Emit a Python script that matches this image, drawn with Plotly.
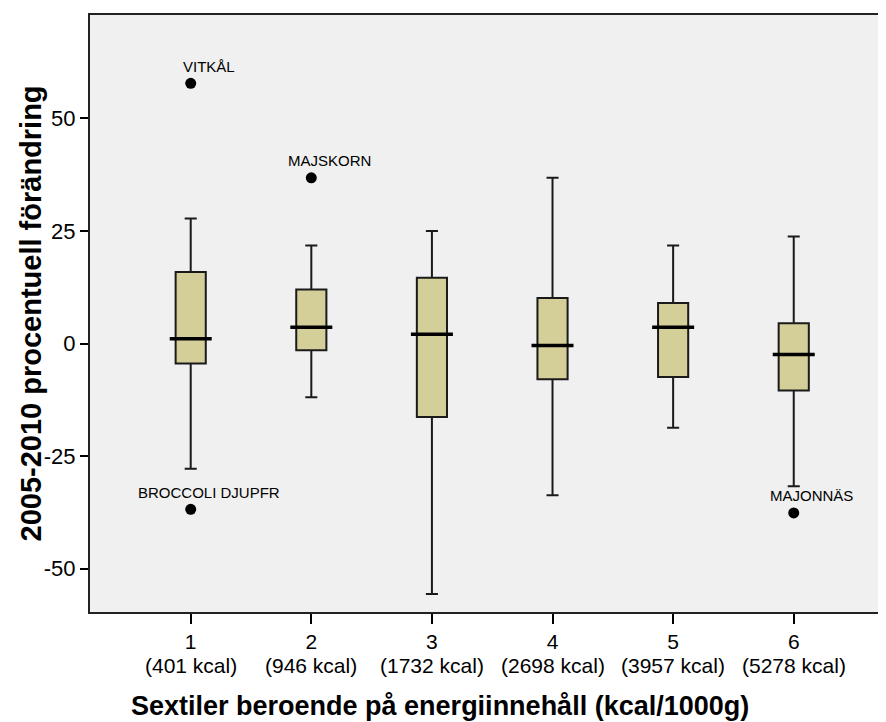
import plotly.graph_objects as go

categories = [1, 2, 3, 4, 5, 6]
kcal_labels = ["(401 kcal)", "(946 kcal)", "(1732 kcal)", "(2698 kcal)", "(3957 kcal)", "(5278 kcal)"]
q1 = [-4.4, -1.5, -16.3, -7.9, -7.4, -10.4]
median = [1.1, 3.6, 2.1, -0.4, 3.6, -2.4]
q3 = [15.9, 12.0, 14.6, 10.1, 9.0, 4.5]
lower = [-27.8, -11.9, -55.6, -33.7, -18.7, -31.7]
upper = [27.8, 21.8, 25.0, 36.8, 21.8, 23.8]
outlier_cat = [1, 1, 2, 6]
outlier_val = [57.8, -36.8, 36.8, -37.6]
outlier_names = ["VITKÅL", "BROCCOLI DJUPFR", "MAJSKORN", "MAJONNÄS"]
y_ticks = [50, 25, 0, -25, -50]

FONT = "Liberation Sans, Arial, sans-serif"

fig = go.Figure()
fig.add_trace(go.Box(
    x=categories, q1=q1, median=median, q3=q3,
    lowerfence=lower, upperfence=upper,
    width=0.25, whiskerwidth=0.4, boxpoints=False,
    fillcolor="#D4CF99", line=dict(color="#1a1a1a", width=2),
    showlegend=False, hoverinfo="skip",
))
# thicker median lines
fig.add_trace(go.Scatter(
    x=categories, y=median, mode="markers",
    marker=dict(symbol="line-ew", size=30, line=dict(color="black", width=3.5)),
    showlegend=False, hoverinfo="skip",
))
fig.add_trace(go.Scatter(
    x=outlier_cat, y=outlier_val, mode="markers",
    marker=dict(symbol="circle", size=11, color="black"),
    showlegend=False, hoverinfo="skip",
))

annotations = []
for c, v, n in zip(outlier_cat, outlier_val, outlier_names):
    annotations.append(dict(x=c, y=v, xref="x", yref="y", text=n, showarrow=False,
                            xshift=18, yshift=17, font=dict(family=FONT, size=15, color="black")))
for c, k in zip(categories, kcal_labels):
    annotations.append(dict(x=c, y=0, xref="x", yref="paper", text=k, showarrow=False,
                            yanchor="middle", yshift=-53, font=dict(family=FONT, size=21, color="black")))
annotations.append(dict(x=(440 - 90) / 796, y=0, xref="paper", yref="paper",
                        text="<b>Sextiler beroende på energiinnehåll (kcal/1000g)</b>",
                        showarrow=False, yanchor="middle", xanchor="center", yshift=-94,
                        font=dict(family=FONT, size=27, color="black")))
annotations.append(dict(x=(30 - 90) / 796, y=0.5, xref="paper", yref="paper",
                        text="<b>2005-2010 procentuell förändring</b>", textangle=-90,
                        showarrow=False, xanchor="center", yanchor="middle",
                        font=dict(family=FONT, size=29, color="black")))

# page body has an 8px default margin: size and margins compensate for it
fig.update_layout(
    width=878, height=714,
    margin=dict(l=82, r=0, t=7, b=110),
    paper_bgcolor="white", plot_bgcolor="#F0F0F0",
    font=dict(family=FONT, color="black"),
    annotations=annotations,
    xaxis=dict(range=[0.165, 6.765], tickvals=categories, ticktext=[str(c) for c in categories],
               ticks="outside", ticklen=10, tickwidth=2, tickcolor="black",
               showline=True, linecolor="#222", linewidth=2, mirror=True,
               showgrid=False, zeroline=False, tickfont=dict(size=21, family=FONT)),
    yaxis=dict(range=[-59.6, 72.96], tickvals=y_ticks, ticktext=[str(t) for t in y_ticks],
               ticks="outside", ticklen=8, tickwidth=2, tickcolor="black",
               showline=True, linecolor="#222", linewidth=2, mirror=False,
               showgrid=False, zeroline=False, tickfont=dict(size=22, family=FONT)),
)

fig.write_html("out.html")
